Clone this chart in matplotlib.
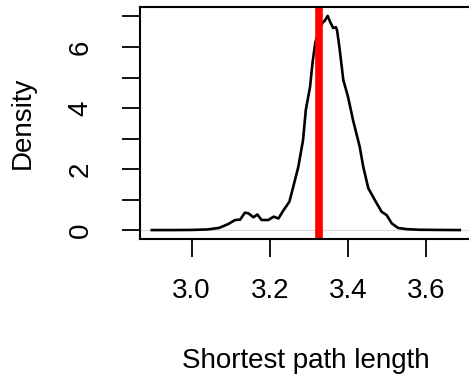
import numpy as np
import matplotlib
matplotlib.use("Agg")
import matplotlib.pyplot as plt

plt.rcParams['font.family'] = ['Liberation Sans', 'DejaVu Sans']
plt.rcParams['font.size'] = 20

# kernel density estimate of shortest path lengths (read off as points)
path_len = [2.898, 2.95, 3.00, 3.04, 3.07, 3.094, 3.111, 3.124, 3.136, 3.145,
            3.158, 3.168, 3.179, 3.196, 3.21, 3.222, 3.234, 3.25, 3.26, 3.273,
            3.285, 3.292, 3.303, 3.309, 3.316, 3.325, 3.335, 3.340, 3.348, 3.354,
            3.362, 3.369, 3.372, 3.378, 3.388, 3.40, 3.413, 3.43, 3.439, 3.452,
            3.469, 3.486, 3.499, 3.512, 3.528, 3.55, 3.584, 3.686]
density = [0.0, 0.0, 0.005, 0.02, 0.07, 0.20, 0.33, 0.34, 0.57, 0.55,
           0.42, 0.51, 0.33, 0.33, 0.44, 0.38, 0.63, 0.93, 1.42, 2.08,
           2.95, 3.93, 4.7, 5.46, 6.12, 6.55, 6.80, 6.85, 7.02, 6.83,
           6.62, 6.65, 6.55, 6.0, 4.92, 4.37, 3.6, 2.73, 2.08, 1.37,
           0.98, 0.6, 0.49, 0.22, 0.07, 0.03, 0.01, 0.0]
observed = 3.325

xticks = [3.0, 3.2, 3.4, 3.6]
yticks = [0, 1, 2, 3, 4, 5, 6, 7]
ylabels = ['0', '', '2', '', '4', '', '6', '']

fig = plt.figure(figsize=(4.69, 3.8), dpi=100)
ax = fig.add_axes([0.2975, 0.372, 0.709, 0.6088])

ax.axhline(0, color='#d9d9d9', lw=0.8)
ax.plot(path_len, density, color='black', lw=1.9)
ax.axvline(observed, color='#ff0000', lw=5.5)

# R-style 4% axis padding
x0, x1 = min(path_len), max(path_len)
dx = 0.04 * (x1 - x0)
ax.set_xlim(x0 - dx, x1 + dx)
y1 = max(density)
ax.set_ylim(-0.04 * y1, 1.04 * y1)

ax.set_xticks(xticks)
ax.set_xticklabels([f'{t:.1f}' for t in xticks])
ax.set_yticks(yticks)
ax.set_yticklabels(ylabels, rotation=90, va='center')

for s in ax.spines.values():
    s.set_linewidth(1.5)
ax.spines['right'].set_visible(False)
ax.tick_params(axis='both', length=13, width=1.3)
ax.tick_params(axis='x', pad=15)
ax.tick_params(axis='y', pad=20)

ax.set_xlabel('Shortest path length', labelpad=32)
ax.set_ylabel('Density', labelpad=23)

fig.savefig('out.png', dpi=100)
